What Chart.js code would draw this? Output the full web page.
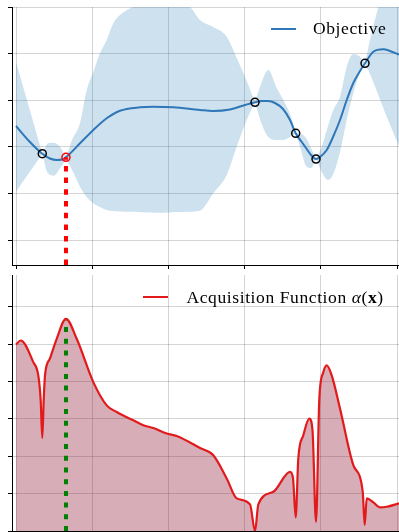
<!DOCTYPE html>
<html>
<head>
<meta charset="utf-8">
<script src="https://cdn.jsdelivr.net/npm/chart.js@4.4.1/dist/chart.umd.min.js"></script>
<style>
  html, body { margin: 0; padding: 0; background: #fff; }
  #wrap { position: relative; width: 399px; height: 532px; overflow: hidden; }
  canvas { position: absolute; left: 0; }
  .legend {
    position: absolute;
    font-family: "Liberation Serif", "Times New Roman", serif;
    font-size: 17.5px;
    line-height: 17.5px;
    letter-spacing: 0.6px;
    color: #000;
    white-space: nowrap;
  }
  .swatch { position: absolute; height: 2px; width: 25px; }
</style>
</head>
<body>
<div id="wrap">
  <canvas id="gp" width="399" height="272" style="top:0"></canvas>
  <canvas id="acq" width="399" height="260" style="top:272px"></canvas>
  <div class="swatch" style="left:271px; top:28px; background:#2e77b8"></div>
  <div class="legend" style="left:313px; top:20.3px">Objective</div>
  <div class="swatch" style="left:143px; top:296px; background:#e31a1c"></div>
  <div class="legend" style="left:186.5px; top:288.7px">Acquisition Function <i>α</i>(<b>x</b>)</div>
</div>
<script>
// ---- axis ticks ----
const xTicks = [0, 0.2, 0.4, 0.6, 0.8, 1.0];
const gpTicks = [0, 1, 2, 3, 4, 5];
const acqTicks = [0, 1, 2, 3, 4, 5, 6];

// ---- observations ----
const observedX = [0.069, 0.6273, 0.7341, 0.7874, 0.916];
const observedY = [1.852, 2.955, 2.290, 1.738, 3.792];
const nextX = [0.1312];
const nextY = [1.775];

// ---- GP posterior mean ----
const meanX = [0, 0.034, 0.069, 0.089, 0.107, 0.121, 0.131, 0.168, 0.203, 0.238, 0.273,
  0.3255, 0.3604, 0.4129, 0.4829, 0.517, 0.5617, 0.601, 0.6273, 0.6457, 0.6614, 0.6798,
  0.7008, 0.7192, 0.7341, 0.748, 0.7612, 0.7743, 0.7874, 0.7979, 0.8155, 0.832, 0.8504,
  0.868, 0.8853, 0.9029, 0.916, 0.9378, 0.964, 0.9816, 1.0052];
const meanY = [2.446, 2.124, 1.852, 1.749, 1.717, 1.727, 1.775, 2.075, 2.361, 2.612, 2.775,
  2.848, 2.861, 2.848, 2.790, 2.768, 2.800, 2.897, 2.955, 2.983, 2.983, 2.940,
  2.811, 2.575, 2.290, 2.124, 1.974, 1.824, 1.738, 1.781, 1.931, 2.210, 2.575,
  3.004, 3.369, 3.627, 3.792, 4.041, 4.092, 4.056, 3.980];

// ---- confidence band ----
const bandX = [0, 0.034, 0.069, 0.084, 0.0997, 0.1155, 0.1312, 0.147, 0.168, 0.1856,
  0.2029, 0.2205, 0.238, 0.2554, 0.273, 0.3071, 0.3517, 0.3832, 0.4173, 0.4567,
  0.4829, 0.5178, 0.553, 0.5793, 0.6055, 0.6273, 0.643, 0.6622, 0.6842, 0.7016,
  0.7192, 0.7341, 0.748, 0.7612, 0.7743, 0.7874, 0.8024, 0.8189, 0.8328, 0.8504,
  0.868, 0.8853, 0.9029, 0.916, 0.9291, 0.9509, 0.973, 1.0052];
const bandUpper = [3.820, 2.854, 1.852, 2.075, 2.088, 2.002, 1.824, 2.146, 2.511, 3.219,
  3.605, 4.006, 4.292, 4.650, 4.828, 5.006, 5.17, 5.19, 5.12, 5.0,
  4.721, 4.571, 4.363, 3.906, 3.412, 2.955, 3.348, 3.648, 3.262, 3.004,
  2.704, 2.290, 2.275, 2.189, 1.974, 1.738, 2.002, 2.446, 2.790, 3.075,
  3.719, 3.991, 3.933, 3.792, 4.292, 5.006, 5.7, 6.78];
const bandLower = [1.036, 1.438, 1.852, 1.431, 1.380, 1.539, 1.695, 1.502, 1.144, 0.923,
  0.788, 0.708, 0.644, 0.622, 0.612, 0.607, 0.590, 0.586, 0.601, 0.607,
  0.629, 1.002, 1.395, 2.002, 2.575, 2.955, 2.532, 2.210, 2.146, 2.146,
  2.210, 2.290, 1.931, 1.588, 1.545, 1.738, 1.459, 1.288, 1.416, 1.888,
  2.575, 3.155, 3.605, 3.792, 3.562, 3.112, 2.646, 2.017];

// ---- acquisition function ----
const acqX = [0, 0.0123, 0.0454, 0.0585, 0.0648, 0.069, 0.0727, 0.0761, 0.0892, 0.1068,
  0.1312, 0.1593, 0.2029, 0.238, 0.2643, 0.3079, 0.3341, 0.3604, 0.3955, 0.4218,
  0.4829, 0.5178, 0.553, 0.5793, 0.6142, 0.6273, 0.636, 0.6753, 0.7192, 0.727,
  0.7341, 0.7409, 0.7541, 0.7698, 0.7782, 0.7874, 0.7961, 0.8066, 0.8155, 0.8286,
  0.8504, 0.8853, 0.91, 0.9152, 0.9205, 0.9378, 0.9554, 0.973, 1.0052];
const acqY = [4.987, 5.093, 4.515, 4.16, 3.493, 2.488, 3.493, 4.16, 4.613, 5.139,
  5.672, 5.139, 3.981, 3.36, 3.181, 2.96, 2.827, 2.755, 2.605, 2.541,
  2.221, 2.027, 1.405, 0.872, 0.712, 0.0, 0.712, 1.048, 1.581, 1.413,
  0.365, 1.939, 2.56, 3.005, 2.693, 0.248, 3.539, 4.248, 4.427, 4.16,
  3.272, 1.76, 1.048, 0.16, 0.872, 0.765, 0.632, 0.648, 0.739];
const acqBest = 5.672;

// ---- view ranges ----
const X_MIN = -0.0105, X_MAX = 1.0052;
const GP_MIN = -0.536, GP_MAX = 5;
const ACQ_MIN = 0, ACQ_MAX = 6.845;

// Turns x/y arrays into points, restarting the curve at each kink so the
// spline keeps a sharp corner there.
function toPoints(xs, ys, kinks) {
  const pts = [];
  xs.forEach((x, i) => {
    pts.push({ x, y: ys[i] });
    if (kinks.some(k => Math.abs(k - x) < 1e-9) && i > 0 && i < xs.length - 1) {
      pts.push({ x, y: null });
      pts.push({ x, y: ys[i] });
    }
  });
  return pts;
}

function scales(yMin, yMax, yTicks, xHeight) {
  const grid = { color: 'rgba(0,0,0,0.17)', lineWidth: 1, tickColor: '#000', tickLength: 4, tickWidth: 1 };
  const border = { display: true, color: '#000', width: 1 };
  return {
    x: {
      type: 'linear', min: X_MIN, max: X_MAX,
      ticks: { display: false }, grid: { ...grid }, border,
      afterBuildTicks: s => { s.ticks = xTicks.map(v => ({ value: v })); },
      afterFit: s => { s.height = xHeight; }
    },
    y: {
      type: 'linear', min: yMin, max: yMax,
      ticks: { display: false }, grid: { ...grid }, border,
      afterBuildTicks: s => { s.ticks = yTicks.map(v => ({ value: v })); },
      afterFit: s => { s.width = 12; }
    }
  };
}

const common = {
  responsive: false,
  animation: false,
  devicePixelRatio: 1,
  events: [],
  plugins: { legend: { display: false }, tooltip: { enabled: false } },
  elements: { point: { radius: 0 } }
};

const BLUE = '#2e77b8';
const BAND = 'rgba(31,119,180,0.22)';
const RED = '#e31a1c';

new Chart(document.getElementById('gp'), {
  type: 'line',
  data: {
    datasets: [
      {
        data: toPoints(bandX, bandUpper, observedX),
        borderColor: 'rgba(0,0,0,0)', borderWidth: 0,
        backgroundColor: BAND, fill: '+1',
        cubicInterpolationMode: 'monotone', order: 5
      },
      {
        data: toPoints(bandX, bandLower, observedX),
        borderColor: 'rgba(0,0,0,0)', borderWidth: 0,
        fill: false, cubicInterpolationMode: 'monotone', order: 4
      },
      {
        label: 'Objective',
        data: meanX.map((x, i) => ({ x, y: meanY[i] })),
        borderColor: BLUE, borderWidth: 2, fill: false,
        cubicInterpolationMode: 'monotone', order: 3
      },
      {
        data: [{ x: nextX[0], y: GP_MIN }, { x: nextX[0], y: nextY[0] }],
        borderColor: '#ff0000', borderWidth: 4, borderDash: [5.5, 6.2],
        borderCapStyle: 'butt', fill: false, tension: 0, order: 2
      },
      {
        data: observedX.map((x, i) => ({ x, y: observedY[i] })),
        showLine: false, pointRadius: 4, pointBorderWidth: 1.5,
        pointBorderColor: '#000', pointBackgroundColor: 'rgba(0,0,0,0)', order: 1
      },
      {
        data: nextX.map((x, i) => ({ x, y: nextY[i] })),
        showLine: false, pointRadius: 4, pointBorderWidth: 1.5,
        pointBorderColor: '#ff0000', pointBackgroundColor: 'rgba(0,0,0,0)', order: 0
      }
    ]
  },
  options: {
    ...common,
    layout: { autoPadding: false, padding: { top: 7, left: 0, right: 0, bottom: 0 } },
    scales: scales(GP_MIN, GP_MAX, gpTicks, 7)
  }
});

const acqPoints = acqX.map((x, i) => ({ x, y: acqY[i] }));

new Chart(document.getElementById('acq'), {
  type: 'line',
  data: {
    datasets: [
      {
        data: acqPoints,
        borderColor: 'rgba(0,0,0,0)', borderWidth: 0,
        backgroundColor: 'rgba(140,20,50,0.35)', fill: 'origin',
        cubicInterpolationMode: 'monotone', order: 3
      },
      {
        data: [{ x: nextX[0], y: ACQ_MIN }, { x: nextX[0], y: acqBest }],
        borderColor: '#008000', borderWidth: 4, borderDash: [5, 6.7],
        borderCapStyle: 'butt', fill: false, tension: 0, order: 2
      },
      {
        label: 'Acquisition Function',
        data: acqPoints,
        borderColor: RED, borderWidth: 2.2, borderJoinStyle: 'round',
        fill: false, cubicInterpolationMode: 'monotone', order: 1
      }
    ]
  },
  options: {
    ...common,
    layout: { autoPadding: false, padding: { top: 3, left: 0, right: 0, bottom: 0 } },
    scales: scales(ACQ_MIN, ACQ_MAX, acqTicks, 1)
  }
});
</script>
</body>
</html>
